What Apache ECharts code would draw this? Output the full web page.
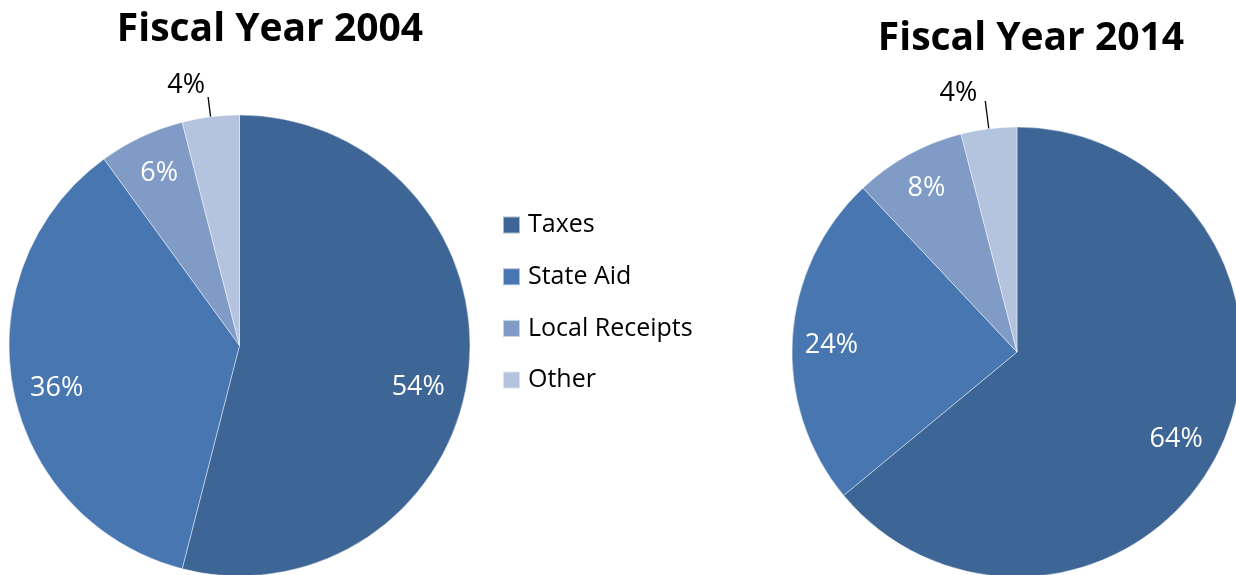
<!DOCTYPE html>
<html>
<head>
<meta charset="utf-8">
<script src="https://cdn.jsdelivr.net/npm/echarts@6/dist/echarts.min.js"></script>
<style>
  html, body { margin: 0; padding: 0; background: #fff; }
  #chart { width: 1236px; height: 575px; }
</style>
</head>
<body>
<div id="chart"></div>
<script>
// Revenue sources, share of total (%)
const categories = ['Taxes', 'State Aid', 'Local Receipts', 'Other'];
const fy2004 = [54, 36, 6, 4];
const fy2014 = [64, 24, 8, 4];
const titles = ['Fiscal Year 2004', 'Fiscal Year 2014'];
const colors = ['#3D6595', '#4876B0', '#7F9BC6', '#B4C3DE'];

const FONT = '"Open Sans", Lato, sans-serif';
const outsideLabel = 'Other';

// Small nudges for the inside percentage labels (px), per slice
const nudge2004 = [[-11, 18], [5, 7], [1, 1], [0, 0]];
const nudge2014 = [[-11, 7], [2, 5], [0, 1], [0, 0]];

// Visible slices; only the small slice carries an outside label
function slicesSeries(values, center, radius, lineLen, outsideShift) {
  return {
    type: 'pie',
    center: center,
    radius: [0, radius],
    startAngle: 90,
    clockwise: true,
    avoidLabelOverlap: false,
    emphasis: { disabled: true },
    itemStyle: { borderColor: 'rgba(255,255,255,0.55)', borderWidth: 0.8 },
    labelLine: {
      show: true, length: lineLen, length2: 0, smooth: false,
      lineStyle: { color: '#000', width: 1.3 }
    },
    data: categories.map((name, i) => ({
      name: name,
      value: values[i],
      itemStyle: { color: colors[i] },
      label: name === outsideLabel ? {
        show: true, position: 'outside', distanceToLabelLine: 5,
        offset: outsideShift,
        formatter: '{c}%', color: '#000', fontSize: 27, fontFamily: FONT
      } : { show: false },
      labelLine: { show: name === outsideLabel }
    }))
  };
}

// Transparent ring used to place the inside percentages near the rim
function labelRing(values, center, r0, r, nudges) {
  return {
    type: 'pie',
    center: center,
    radius: [r0, r],
    startAngle: 90,
    clockwise: true,
    silent: true,
    avoidLabelOverlap: false,
    emphasis: { disabled: true },
    labelLine: { show: false },
    itemStyle: { color: 'rgba(0,0,0,0)', borderWidth: 0 },
    data: categories.map((name, i) => ({
      name: name,
      value: values[i],
      label: {
        show: name !== outsideLabel, position: 'inside', offset: nudges[i],
        formatter: '{c}%', color: '#fff', fontSize: 27, fontFamily: FONT
      }
    }))
  };
}

const titleStyle = { fontSize: 39, fontWeight: 'bold', color: '#000', fontFamily: FONT };

const chart = echarts.init(document.getElementById('chart'), null, { renderer: 'canvas' });
chart.setOption({
  backgroundColor: '#fff',
  animation: false,
  color: colors,
  title: [
    { text: titles[0], left: 265, top: 5, textAlign: 'center', textStyle: titleStyle },
    { text: titles[1], left: 1026, top: 14, textAlign: 'center', textStyle: titleStyle }
  ],
  legend: {
    orient: 'vertical',
    left: 497,
    top: 206,
    icon: 'rect',
    itemWidth: 17,
    itemHeight: 17,
    itemGap: 23.7,
    data: categories,
    selectedMode: false,
    textStyle: { fontSize: 25, lineHeight: 28, color: '#000', fontFamily: FONT, padding: [0, 0, 0, 3] }
  },
  series: [
    slicesSeries(fy2004, [239.5, 345.5], 230.5, 20, [2, -12]),
    slicesSeries(fy2014, [1017, 352], 225, 28, [-3, -8]),
    labelRing(fy2004, [239.5, 345.5], 146, 230.5, nudge2004),
    labelRing(fy2014, [1017, 352], 145, 225, nudge2014)
  ]
});
</script>
</body>
</html>
